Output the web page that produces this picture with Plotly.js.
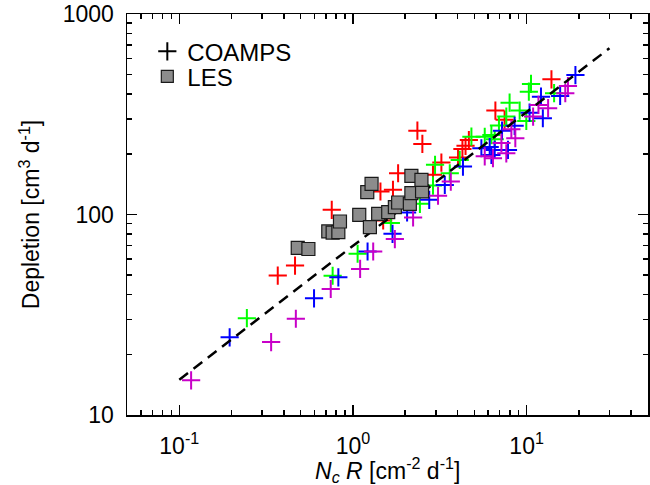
<!DOCTYPE html>
<html>
<head>
<meta charset="utf-8">
<script src="https://cdn.plot.ly/plotly-3.0.1.min.js"></script>
<style>html,body{margin:0;padding:0;background:#fff;}#chart{width:650px;height:485px;}</style>
</head>
<body>
<div id="chart"></div>
<script>
// COAMPS series (N_c R, Depletion)
const redX = [0.369, 0.464, 0.755, 1.44, 1.70, 1.493, 1.82, 2.35, 2.51, 2.89, 3.23, 4.03, 4.27, 4.45, 4.65, 6.61, 7.47, 13.9];
const redY = [49.6, 55.6, 105.5, 130.2, 132.7, 93.4, 160.6, 262, 225, 157.9, 181.5, 192.3, 212, 220, 235, 330, 297, 472];

const greenX = [0.245, 0.764, 1.064, 1.653, 2.43, 2.89, 2.97, 3.61, 4.12, 4.81, 5.74, 6.27, 6.55, 6.93, 7.64, 7.98, 9.12, 9.96, 10.3, 10.6, 14.4];
const greenY = [30.4, 49.5, 63.7, 90.6, 113.1, 139.4, 177, 160.6, 187.2, 244.5, 244, 249, 237, 278, 308, 361, 330, 293, 410, 448, 403];

const blueX = [0.195, 0.597, 0.824, 1.214, 1.69, 2.05, 2.75, 3.38, 4.30, 5.49, 6.13, 6.55, 6.27, 7.22, 7.81, 8.53, 10.4, 12.1, 12.4, 15.6, 19.1];
const blueY = [24.4, 38.2, 48.6, 65.4, 80.1, 102.3, 118.4, 140.4, 173.4, 214, 217, 210, 198, 262, 210, 277, 322, 387, 302, 390, 496];

const magentaX = [0.117, 0.338, 0.469, 0.745, 1.10, 1.308, 1.743, 2.22, 3.09, 3.66, 5.74, 6.40, 7.16, 7.64, 8.17, 8.61, 10.9, 11.7, 13.3, 16.7, 17.3];
const magentaY = [14.9, 23.1, 30.2, 42.5, 53.5, 65.4, 75.4, 96.6, 124, 145.9, 195, 191, 227, 202, 266, 240, 308, 352, 339, 403, 437];

// LES series
const lesX = [0.481, 0.554, 0.721, 0.764, 0.824, 0.842, 1.087, 1.209, 1.28, 1.252, 1.397, 1.596, 1.743, 1.821, 2.126, 2.17, 2.50, 2.17, 2.48];
const lesY = [68.1, 67.3, 82.3, 81.3, 81.6, 92.3, 99.6, 129.3, 142.2, 86.5, 100.8, 102.8, 108.9, 114.8, 113.1, 127.9, 130.3, 155.9, 148.9];

// Fit line end points
const fitX = [0.1, 30];
const fitY = [15, 675];

// Tick values / labels
const xTickVals = [0.1, 1, 10];
const xTickText = ['10<sup>-1</sup>', '10<sup>0</sup>', '10<sup>1</sup>'];
const yTickVals = [10, 100, 1000];
const yTickText = ['10', '100', '1000'];
const xMinor = [0.06, 0.07, 0.08, 0.09, 0.2, 0.3, 0.4, 0.5, 0.6, 0.7, 0.8, 0.9, 2, 3, 4, 5, 6, 7, 8, 9, 20, 30, 40];
const yMinor = [20, 30, 40, 50, 60, 70, 80, 90, 200, 300, 400, 500, 600, 700, 800, 900];

const xTitle = '<i>N<sub>c</sub> R</i> [cm<sup>-2</sup> d<sup>-1</sup>]';
const yTitle = 'Depletion [cm<sup>3</sup> d<sup>-1</sup>]';

const FONT = 'Liberation Sans, Arial, Helvetica, sans-serif';

function crosses(x, y, color) {
  return {
    x: x, y: y, type: 'scatter', mode: 'markers', showlegend: false, hoverinfo: 'skip',
    marker: {symbol: 'cross-thin-open', size: 13, line: {color: color, width: 2}, color: color}
  };
}

const traces = [
  crosses(redX, redY, '#ff0000'),
  crosses(greenX, greenY, '#00ff00'),
  crosses(blueX, blueY, '#0000ff'),
  crosses(magentaX, magentaY, '#c800c8'),
  {x: fitX, y: fitY, type: 'scatter', mode: 'lines', showlegend: false, hoverinfo: 'skip',
   line: {color: '#000', width: 2.5, dash: '11px,7px'}},
  {x: lesX, y: lesY, type: 'scatter', mode: 'markers', showlegend: false, hoverinfo: 'skip',
   marker: {symbol: 'square', size: 13, color: '#8c8c8c', line: {color: '#1a1a1a', width: 1.2}}},
  {x: [null], y: [null], type: 'scatter', mode: 'markers', name: 'COAMPS', legend: 'legend',
   marker: {symbol: 'cross-thin-open', size: 13, line: {color: '#000', width: 2}, color: '#000'}},
  {x: [null], y: [null], type: 'scatter', mode: 'markers', name: 'LES', legend: 'legend2',
   marker: {symbol: 'square', size: 12, color: '#8c8c8c', line: {color: '#1a1a1a', width: 1.2}}}
];

const axisCommon = {
  type: 'log', showgrid: false, zeroline: false, showline: true, linecolor: '#000', linewidth: 1.5,
  mirror: 'allticks', ticks: 'inside', ticklen: 10, tickwidth: 1.5, tickcolor: '#000',
  tickfont: {family: FONT, size: 23, color: '#000'}, tickmode: 'array'
};

const layout = {
  width: 650, height: 485,
  margin: {l: 127, r: 2, t: 14, b: 70},
  paper_bgcolor: '#fff', plot_bgcolor: '#fff',
  font: {family: FONT, color: '#000'},
  xaxis: Object.assign({}, axisCommon, {
    range: [Math.log10(0.05), Math.log10(50)],
    tickvals: xTickVals, ticktext: xTickText, ticklabelstandoff: 10,
    minor: {tickmode: 'array', tickvals: xMinor, ticks: 'inside', ticklen: 5, tickwidth: 1.5, tickcolor: '#000'}
  }),
  yaxis: Object.assign({}, axisCommon, {
    range: [1, 3],
    tickvals: yTickVals, ticktext: yTickText, ticklabelstandoff: 7,
    minor: {tickmode: 'array', tickvals: yMinor, ticks: 'inside', ticklen: 5, tickwidth: 1.5, tickcolor: '#000'},
    title: {text: yTitle, font: {family: FONT, size: 23, color: '#000'}, standoff: 16}
  }),
  annotations: [{
    text: xTitle, xref: 'paper', yref: 'paper', x: 0.5, y: -0.138, xanchor: 'center', yanchor: 'middle',
    showarrow: false, font: {family: FONT, size: 23, color: '#000'}
  }],
  legend: {x: 0.039, xanchor: 'left', y: 0.906, yanchor: 'middle', bgcolor: 'rgba(0,0,0,0)',
           font: {family: FONT, size: 24, color: '#000'}, borderwidth: 0},
  legend2: {x: 0.039, xanchor: 'left', y: 0.8436, yanchor: 'middle', bgcolor: 'rgba(0,0,0,0)',
            font: {family: FONT, size: 24, color: '#000'}, borderwidth: 0},
  showlegend: true
};

Plotly.newPlot('chart', traces, layout, {staticPlot: true, displayModeBar: false});
</script>
</body>
</html>
